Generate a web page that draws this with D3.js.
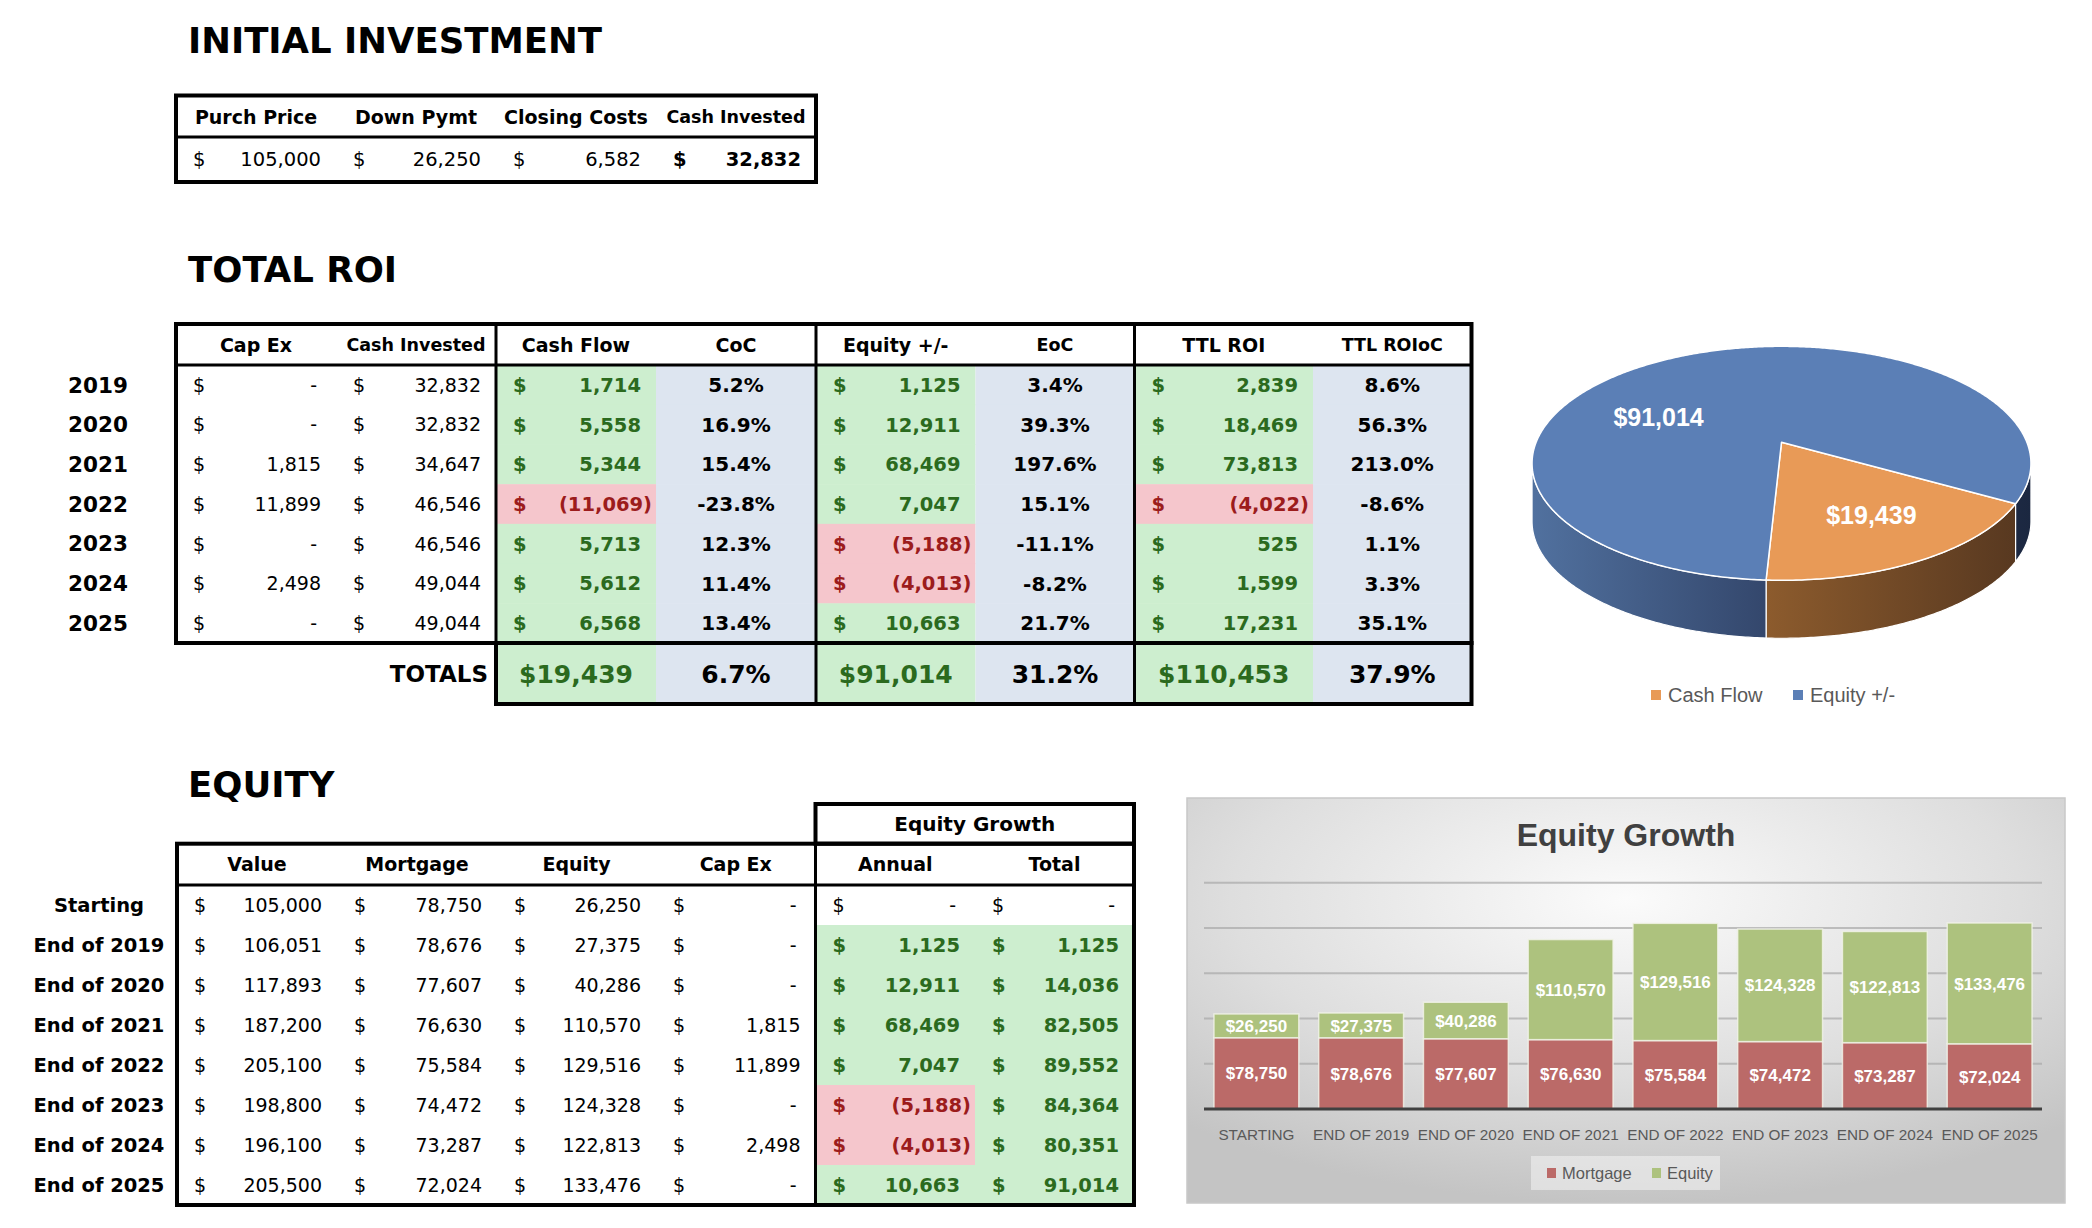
<!DOCTYPE html>
<html><head><meta charset="utf-8">
<script src="https://cdn.jsdelivr.net/npm/d3@7/dist/d3.min.js"></script>
<style>
html,body{margin:0;padding:0;background:#fff;}
svg{display:block;}
</style></head><body>
<svg id="c" width="2092" height="1228"></svg>
<script>
// ---------------- DATA ----------------
const initHeaders = ["Purch Price", "Down Pymt", "Closing Costs", "Cash Invested"];
const initValues = [105000, 26250, 6582, 32832];

const roiHeaders = ["Cap Ex", "Cash Invested", "Cash Flow", "CoC", "Equity +/-", "EoC", "TTL ROI", "TTL ROIoC"];
const years = ["2019", "2020", "2021", "2022", "2023", "2024", "2025"];
const capEx = [0, 0, 1815, 11899, 0, 2498, 0];
const cashInvested = [32832, 32832, 34647, 46546, 46546, 49044, 49044];
const cashFlow = [1714, 5558, 5344, -11069, 5713, 5612, 6568];
const coc = [5.2, 16.9, 15.4, -23.8, 12.3, 11.4, 13.4];
const equityChange = [1125, 12911, 68469, 7047, -5188, -4013, 10663];
const eoc = [3.4, 39.3, 197.6, 15.1, -11.1, -8.2, 21.7];
const ttlRoi = [2839, 18469, 73813, -4022, 525, 1599, 17231];
const ttlRoioc = [8.6, 56.3, 213.0, -8.6, 1.1, 3.3, 35.1];
const totalsLabel = "TOTALS";
const roiTotals = [19439, 6.7, 91014, 31.2, 110453, 37.9];

const eqHeaders = ["Value", "Mortgage", "Equity", "Cap Ex", "Annual", "Total"];
const eqGroupHeader = "Equity Growth";
const eqRows = ["Starting", "End of 2019", "End of 2020", "End of 2021", "End of 2022", "End of 2023", "End of 2024", "End of 2025"];
const eqValue = [105000, 106051, 117893, 187200, 205100, 198800, 196100, 205500];
const eqMortgage = [78750, 78676, 77607, 76630, 75584, 74472, 73287, 72024];
const eqEquity = [26250, 27375, 40286, 110570, 129516, 124328, 122813, 133476];
const eqCapEx = [0, 0, 0, 1815, 11899, 0, 2498, 0];
const eqAnnual = [0, 1125, 12911, 68469, 7047, -5188, -4013, 10663];
const eqTotal = [0, 1125, 14036, 82505, 89552, 84364, 80351, 91014];

const pieLabels = ["Cash Flow", "Equity +/-"];
const pieValues = [19439, 91014];

const barTitle = "Equity Growth";
const barCats = ["STARTING", "END OF 2019", "END OF 2020", "END OF 2021", "END OF 2022", "END OF 2023", "END OF 2024", "END OF 2025"];
const barSeries = ["Mortgage", "Equity"];
const barTicks = [0, 50000, 100000, 150000, 200000, 250000];

// ---------------- STYLE ----------------
const F = "'DejaVu Sans', Verdana, sans-serif";
const XF = "'Liberation Sans', Arial, sans-serif";
const GT = "#2b6a1e", RT = "#9c1c1c", GBG = "#cdeecf", RBG = "#f5c6cc", BBG = "#dde5f0";
const fmt = d3.format(",");
const svg = d3.select("#c");

function txt(g, x, y, s, o = {}) {
  return g.append("text").attr("x", x).attr("y", y).attr("dy", "0.36em")
    .attr("font-family", o.ff || F).attr("font-size", o.size || 19)
    .attr("font-weight", o.bold ? "bold" : "normal")
    .attr("fill", o.color || "#000").attr("text-anchor", o.anchor || "start").text(s);
}
function money(g, x0, x1, yc, v, o = {}) {
  const color = o.color || "#000";
  txt(g, x0 + 17, yc, "$", {size: o.size, bold: o.bold, color});
  let s, xr;
  if (v === 0) { s = "-"; xr = x1 - 19; }
  else if (v < 0) { s = "(" + fmt(-v) + ")"; xr = x1 - 4; }
  else { s = fmt(v); xr = x1 - 15; }
  txt(g, xr, yc, s, {size: o.size, bold: o.bold, color, anchor: "end"});
}
function line(g, x1, y1, x2, y2, w = 4) {
  g.append("line").attr("x1", x1).attr("y1", y1).attr("x2", x2).attr("y2", y2)
    .attr("stroke", "#000").attr("stroke-width", w).attr("stroke-linecap", "square");
}
function box(g, x0, y0, x1, y1, w = 4) {
  g.append("rect").attr("x", x0).attr("y", y0).attr("width", x1 - x0).attr("height", y1 - y0)
    .attr("fill", "none").attr("stroke", "#000").attr("stroke-width", w);
}
function title(s, y) {
  svg.append("text").attr("x", 188).attr("y", y).attr("font-family", F).attr("font-size", 35.5)
    .attr("font-weight", "bold").attr("fill", "#000").text(s);
}

// ---------------- INITIAL INVESTMENT ----------------
title("INITIAL INVESTMENT", 53);
{
  const g = svg.append("g");
  const cx = d3.scaleBand().domain(initHeaders).range([176, 816]);
  initHeaders.forEach((h, i) => {
    txt(g, cx(h) + cx.bandwidth() / 2, 117, h, {bold: true, size: i === 3 ? 17.5 : 19, anchor: "middle"});
    money(g, cx(h), cx(h) + cx.bandwidth(), 159, initValues[i], {size: 19.5, bold: i === 3});
  });
  box(g, 176, 95.5, 816, 182);
  line(g, 176, 137, 816, 137, 3);
}

// ---------------- TOTAL ROI ----------------
title("TOTAL ROI", 282);
{
  const g = svg.append("g");
  const edges = [176, 336, 496, 656, 816, 975.5, 1134.5, 1313, 1471.5];
  const top = 324, hLine = 365, bodyBot = 643, totBot = 704;
  const ry = d3.scaleBand().domain(years).range([hLine, bodyBot]);
  const hy = 345, ty = (bodyBot + totBot) / 2;
  const cols = [capEx, cashInvested, cashFlow, coc, equityChange, eoc, ttlRoi, ttlRoioc];
  years.forEach((yr, r) => {
    [2, 4, 6].forEach(c => {
      g.append("rect").attr("x", edges[c]).attr("y", ry(yr)).attr("width", edges[c + 1] - edges[c])
        .attr("height", ry.bandwidth() + 0.5).attr("fill", cols[c][r] < 0 ? RBG : GBG);
    });
    [3, 5, 7].forEach(c => {
      g.append("rect").attr("x", edges[c]).attr("y", ry(yr)).attr("width", edges[c + 1] - edges[c])
        .attr("height", ry.bandwidth() + 0.5).attr("fill", BBG);
    });
  });
  [2, 3, 4, 5, 6, 7].forEach(c => {
    g.append("rect").attr("x", edges[c]).attr("y", bodyBot).attr("width", edges[c + 1] - edges[c])
      .attr("height", totBot - bodyBot).attr("fill", c % 2 === 0 ? GBG : BBG);
  });
  roiHeaders.forEach((h, c) => {
    const small = (c === 1 || c === 5 || c === 7);
    txt(g, (edges[c] + edges[c + 1]) / 2, hy, h, {bold: true, size: small ? 17.5 : 19, anchor: "middle"});
  });
  years.forEach((yr, r) => {
    const yc = ry(yr) + ry.bandwidth() / 2;
    txt(g, 98, yc, yr, {bold: true, size: 21.5, anchor: "middle"});
    money(g, edges[0], edges[1], yc, capEx[r], {size: 19});
    money(g, edges[1], edges[2], yc, cashInvested[r], {size: 19});
    [2, 4, 6].forEach(c => {
      const v = cols[c][r];
      money(g, edges[c], edges[c + 1], yc, v, {size: 19.5, bold: true, color: v < 0 ? RT : GT});
    });
    [3, 5, 7].forEach(c => {
      txt(g, (edges[c] + edges[c + 1]) / 2, yc, cols[c][r].toFixed(1) + "%", {size: 20, bold: true, anchor: "middle"});
    });
  });
  txt(g, 488, ty, totalsLabel, {bold: true, size: 23, anchor: "end"});
  roiTotals.forEach((v, i) => {
    const c = i + 2;
    const s = i % 2 === 0 ? "$" + fmt(v) : v.toFixed(1) + "%";
    txt(g, (edges[c] + edges[c + 1]) / 2, ty, s, {bold: true, size: 25, anchor: "middle", color: i % 2 === 0 ? GT : "#000"});
  });
  box(g, edges[0], top, edges[8], bodyBot);
  box(g, edges[2], bodyBot, edges[8], totBot);
  line(g, edges[0], hLine, edges[8], hLine, 3);
  [edges[2], edges[4], edges[6]].forEach(x => line(g, x, top, x, totBot, 3));
}

// ---------------- EQUITY ----------------
title("EQUITY", 797);
{
  const g = svg.append("g");
  const edges = [177, 337, 497, 656, 815.5, 975, 1134];
  const gTop = 804, top = 843.7, hLine = 885, bot = 1205;
  const ry = d3.scaleBand().domain(eqRows).range([hLine, bot]);
  const cols = [eqValue, eqMortgage, eqEquity, eqCapEx, eqAnnual, eqTotal];
  eqRows.forEach((lab, r) => {
    if (r === 0) return;
    [4, 5].forEach(c => {
      g.append("rect").attr("x", edges[c]).attr("y", ry(lab)).attr("width", edges[c + 1] - edges[c])
        .attr("height", ry.bandwidth() + 0.5).attr("fill", cols[c][r] < 0 ? RBG : GBG);
    });
  });
  txt(g, (edges[4] + edges[6]) / 2, (gTop + top) / 2, eqGroupHeader, {bold: true, size: 20, anchor: "middle"});
  eqHeaders.forEach((h, c) => txt(g, (edges[c] + edges[c + 1]) / 2, (top + hLine) / 2, h, {bold: true, size: 19, anchor: "middle"}));
  eqRows.forEach((lab, r) => {
    const yc = ry(lab) + ry.bandwidth() / 2;
    txt(g, 99, yc, lab, {bold: true, size: 19.5, anchor: "middle"});
    for (let c = 0; c < 4; c++) money(g, edges[c], edges[c + 1], yc, cols[c][r], {size: 19});
    [4, 5].forEach(c => {
      const v = cols[c][r];
      if (r === 0) money(g, edges[c], edges[c + 1], yc, v, {size: 19});
      else money(g, edges[c], edges[c + 1], yc, v, {size: 19.5, bold: true, color: v < 0 ? RT : GT});
    });
  });
  box(g, edges[0], top, edges[6], bot);
  box(g, edges[4], gTop, edges[6], top);
  line(g, edges[0], hLine, edges[6], hLine, 3);
  line(g, edges[4], top, edges[4], bot, 3);
}

// ---------------- PIE (3D look) ----------------
{
  const g = svg.append("g");
  const defs = svg.append("defs");
  const P = {cx: 1781.5, ay: 442.3, A: 113.2, B: 0.1795, C: 245.4, depth: 58};
  const proj = (t, r = 1) => {
    const u = Math.sin(t) * r, v = Math.cos(t) * r, d = 1 + P.B * v;
    return [P.cx + P.C * u / d, P.ay - P.A * v / d];
  };
  const a0 = 119.6 * Math.PI / 180;
  const arcs = d3.pie().sort(null).startAngle(a0).endAngle(a0 + 2 * Math.PI)(pieValues);
  const topCol = ["#e89a57", "#5b7fb6"];
  const gradStops = [
    [[0, "#8c5b2d"], [1, "#573820"]],
    [[0, "#51719f"], [0.48, "#33466b"], [1, "#1b2740"]]
  ];
  gradStops.forEach((st, i) => {
    const lg = defs.append("linearGradient").attr("id", "side" + i).attr("gradientUnits", "userSpaceOnUse")
      .attr("x1", i === 0 ? 1768 : 1532).attr("x2", i === 0 ? 2020 : 2031).attr("y1", 0).attr("y2", 0);
    st.forEach(s => lg.append("stop").attr("offset", s[0]).attr("stop-color", s[1]));
  });
  const vs = Math.acos(-P.B), ve = 2 * Math.PI - Math.acos(-P.B);
  const rim = (t0, t1, dy = 0) => {
    const n = Math.max(2, Math.ceil(Math.abs(t1 - t0) / 0.01));
    return d3.range(n + 1).map(k => { const p = proj(t0 + (t1 - t0) * k / n); return [p[0], p[1] + dy]; });
  };
  arcs.forEach((a, i) => {
    [0, 2 * Math.PI].forEach(off => {
      const s = Math.max(a.startAngle, vs + off), e = Math.min(a.endAngle, ve + off);
      if (e > s) {
        const pts = rim(s, e).concat(rim(e, s, P.depth));
        g.append("path").attr("d", d3.line()(pts) + "Z").attr("fill", "url(#side" + i + ")")
          .attr("stroke", "#fff").attr("stroke-width", 1.2).attr("stroke-linejoin", "round");
      }
    });
  });
  arcs.forEach((a, i) => {
    const pts = [[P.cx, P.ay]].concat(rim(a.startAngle, a.endAngle));
    g.append("path").attr("d", d3.line()(pts) + "Z").attr("fill", topCol[i])
      .attr("stroke", "#fff").attr("stroke-width", 1.5).attr("stroke-linejoin", "round");
  });
  const labShift = [[-0.02, 0.66], [-0.654, 0.57]];
  arcs.forEach((a, i) => {
    const p = proj((a.startAngle + a.endAngle) / 2 + labShift[i][0], labShift[i][1]);
    txt(g, p[0], p[1], "$" + fmt(a.data), {ff: XF, size: 25, bold: true, color: "#fff", anchor: "middle"});
  });
  const lx = [1651, 1793];
  pieLabels.forEach((l, i) => {
    g.append("rect").attr("x", lx[i]).attr("y", 690).attr("width", 10).attr("height", 10).attr("fill", topCol[i]);
    txt(g, lx[i] + 17, 695, l, {ff: XF, size: 20, color: "#595959"});
  });
}

// ---------------- BAR CHART ----------------
{
  const g = svg.append("g");
  const defs = svg.append("defs");
  const px0 = 1187, px1 = 2065, py0 = 798, py1 = 1203;
  const rg = defs.append("radialGradient").attr("id", "panelbg").attr("cx", "50%").attr("cy", "25%").attr("r", "75%");
  rg.append("stop").attr("offset", 0).attr("stop-color", "#fbfbfb");
  rg.append("stop").attr("offset", 0.6).attr("stop-color", "#dedede");
  rg.append("stop").attr("offset", 1).attr("stop-color", "#c4c4c4");
  g.append("rect").attr("x", px0).attr("y", py0).attr("width", px1 - px0).attr("height", py1 - py0)
    .attr("fill", "url(#panelbg)").attr("stroke", "#c8c8c8").attr("stroke-width", 1.5);
  g.append("text").attr("x", (px0 + px1) / 2).attr("y", 846).attr("text-anchor", "middle")
    .attr("font-family", XF).attr("font-size", 32).attr("font-weight", "bold").attr("fill", "#404040").text(barTitle);

  const x = d3.scaleBand().domain(barCats).range([1204, 2042]).paddingInner(0.19).paddingOuter(0.095);
  const y = d3.scaleLinear().domain([0, 250000]).range([1109, 882.7]);
  barTicks.filter(t => t > 0).forEach(t => {
    g.append("line").attr("x1", 1204).attr("x2", 2042).attr("y1", y(t)).attr("y2", y(t))
      .attr("stroke", "#a8a8a8").attr("stroke-opacity", 0.7).attr("stroke-width", 2);
  });
  const rows = barCats.map((c, i) => ({cat: c, Mortgage: eqMortgage[i], Equity: eqEquity[i]}));
  const stack = d3.stack().keys(barSeries)(rows);
  const bc = ["#bb6a68", "#adc27e"];
  stack.forEach((s, si) => {
    s.forEach(d => {
      g.append("rect").attr("x", x(d.data.cat)).attr("y", y(d[1])).attr("width", x.bandwidth())
        .attr("height", y(d[0]) - y(d[1])).attr("fill", bc[si])
        .attr("stroke", "#f2f4ea").attr("stroke-opacity", 0.8).attr("stroke-width", 1.5);
    });
  });
  g.append("line").attr("x1", 1204).attr("x2", 2042).attr("y1", y(0)).attr("y2", y(0))
    .attr("stroke", "#404040").attr("stroke-width", 3);
  stack.forEach(s => {
    s.forEach(d => {
      txt(g, x(d.data.cat) + x.bandwidth() / 2, (y(d[0]) + y(d[1])) / 2, "$" + fmt(d[1] - d[0]),
        {ff: XF, size: 17, bold: true, color: "#fff", anchor: "middle"});
    });
  });
  barCats.forEach(c => txt(g, x(c) + x.bandwidth() / 2, 1134, c, {ff: XF, size: 15.3, color: "#595959", anchor: "middle"}));
  g.append("rect").attr("x", 1531).attr("y", 1156).attr("width", 189).attr("height", 34)
    .attr("fill", "#f4f4f4").attr("fill-opacity", 0.55);
  const lx = [1547, 1652];
  barSeries.forEach((s, i) => {
    g.append("rect").attr("x", lx[i]).attr("y", 1168).attr("width", 9).attr("height", 10).attr("fill", bc[i]);
    txt(g, lx[i] + 15, 1173, s, {ff: XF, size: 16.5, color: "#595959"});
  });
}
</script>
</body></html>
